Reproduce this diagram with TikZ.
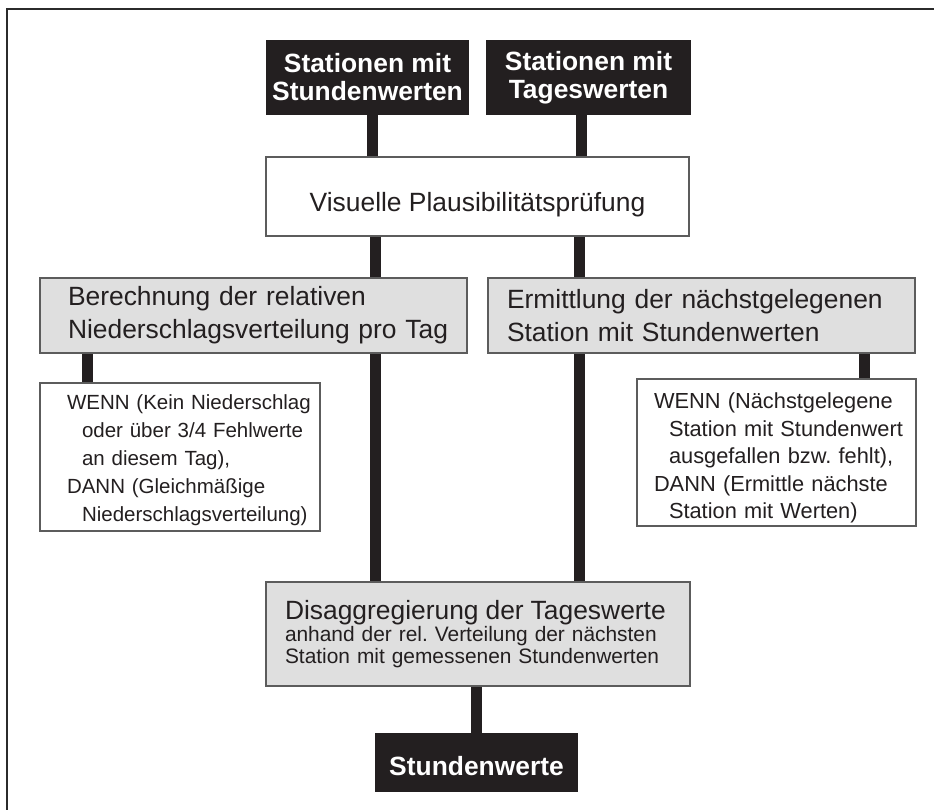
\documentclass[tikz,border=0pt]{standalone}
\usepackage{fontspec}
\setmainfont{Liberation Sans}
\usetikzlibrary{backgrounds}

\definecolor{ink}{HTML}{231F20}
\definecolor{panel}{HTML}{DFDFDF}
\definecolor{rim}{HTML}{5C5C5C}
\definecolor{framecol}{HTML}{2B2B2B}

% text sizes (1pt = one unit of the drawing grid)
\newcommand{\bigtxt}{\fontsize{26.4}{33}\selectfont}
\newcommand{\hangin}{\hspace*{15pt}}
\newcommand{\lift}[1]{\rule{0pt}{#1}}
\frenchspacing

\begin{document}
\begin{tikzpicture}[x=1pt,y=-1pt,
  darkbox/.style={fill=ink, text=white, font=\fontsize{26.4}{28}\selectfont\bfseries,
                  align=center, inner sep=0pt},
  whitebox/.style={draw=rim, line width=1.2pt, fill=white, text=ink, inner sep=0pt},
  greybox/.style={whitebox, fill=panel},
  link/.style={draw=ink, line width=11pt},
  frameline/.style={draw=framecol, line width=2pt}]

\useasboundingbox (0,0) rectangle (934,810);

% input stations
\node[darkbox, minimum width=203pt, minimum height=75pt] (hourly) at (367.5,77.5)
  {Stationen mit\\Stundenwerten};
\node[darkbox, minimum width=205pt, minimum height=75pt] (daily) at (588.5,77.5)
  {Stationen mit\\Tageswerten};

% plausibility check
\node[whitebox, minimum width=423pt, minimum height=79pt, font=\bigtxt,
      text height=31pt, text depth=0pt] (check) at (477.5,196.5)
  {Visuelle Plausibilitätsprüfung};

% two processing branches
\node[greybox, minimum width=427pt, minimum height=75pt, inner xsep=28pt,
      text width=371pt, align=left, font=\bigtxt] (relvert) at (253.5,315.5)
  {\mbox{Berechnung der relativen}\\\mbox{Niederschlagsverteilung pro Tag}};
\node[greybox, minimum width=427pt, minimum height=75pt, inner xsep=19pt,
      text width=389pt, align=left, font=\bigtxt] (nearest) at (701.5,315.5)
  {\mbox{Ermittlung der nächstgelegenen}\\\mbox{Station mit Stundenwerten}};

% rules for missing data
\node[whitebox, minimum width=280pt, minimum height=148pt, inner xsep=27pt,
      text width=226pt, align=left, font=\fontsize{20.5}{28}\selectfont] (ruleL) at (180,457)
  {\lift{20.5pt}\mbox{WENN (Kein Niederschlag}\\
   \mbox{\hangin oder über 3/4 Fehlwerte}\\
   \mbox{\hangin an diesem Tag),}\\
   \mbox{DANN (Gleichmäßige}\\
   \mbox{\hangin Niederschlagsverteilung)}};
\node[whitebox, minimum width=279pt, minimum height=147pt, inner xsep=17pt,
      text width=245pt, align=left, font=\fontsize{21.8}{27.6}\selectfont] (ruleR) at (776.5,452.5)
  {\lift{27pt}\mbox{WENN (Nächstgelegene}\\
   \mbox{\hangin Station mit Stundenwert}\\
   \mbox{\hangin ausgefallen bzw. fehlt),}\\
   \mbox{DANN (Ermittle nächste}\\
   \mbox{\hangin Station mit Werten)}};

% disaggregation
\node[greybox, minimum width=424pt, minimum height=104pt, inner xsep=19pt,
      text width=386pt, align=left, font=\fontsize{20.9}{21.5}\selectfont] (disagg) at (478,634)
  {{\bigtxt\mbox{Disaggregierung der Tageswerte}}\\[1pt]
   \mbox{anhand der rel. Verteilung der nächsten}\\
   \mbox{Station mit gemessenen Stundenwerten}};

% result
\node[darkbox, minimum width=203pt, minimum height=59pt, text height=25pt, text depth=0pt]
  (result) at (476.5,762.5) {Stundenwerte};

% column positions of the connecting bars
\coordinate (colLtop) at (372.5,0);
\coordinate (colRtop) at (581.5,0);
\coordinate (colL) at (375.5,0);
\coordinate (colR) at (579.5,0);
\coordinate (tapL) at (87.5,0);
\coordinate (tapR) at (864.5,0);
\coordinate (colM) at (476,0);

\begin{scope}[on background layer]
  \fill[white] (0,0) rectangle (934,810);
  \draw[frameline] (7,810) -- (7,9) -- (934,9);

  \draw[link] (hourly.south -| colLtop) -- (check.north -| colLtop);
  \draw[link] (daily.south -| colRtop) -- (check.north -| colRtop);
  \draw[link] (check.south -| colL) -- (relvert.north -| colL);
  \draw[link] (relvert.south -| colL) -- (disagg.north -| colL);
  \draw[link] (check.south -| colR) -- (nearest.north -| colR);
  \draw[link] (nearest.south -| colR) -- (disagg.north -| colR);
  \draw[link] (relvert.south -| tapL) -- (ruleL.north -| tapL);
  \draw[link] (nearest.south -| tapR) -- (ruleR.north -| tapR);
  \draw[link] (disagg.south -| colM) -- (result.north -| colM);
\end{scope}
\end{tikzpicture}
\end{document}
